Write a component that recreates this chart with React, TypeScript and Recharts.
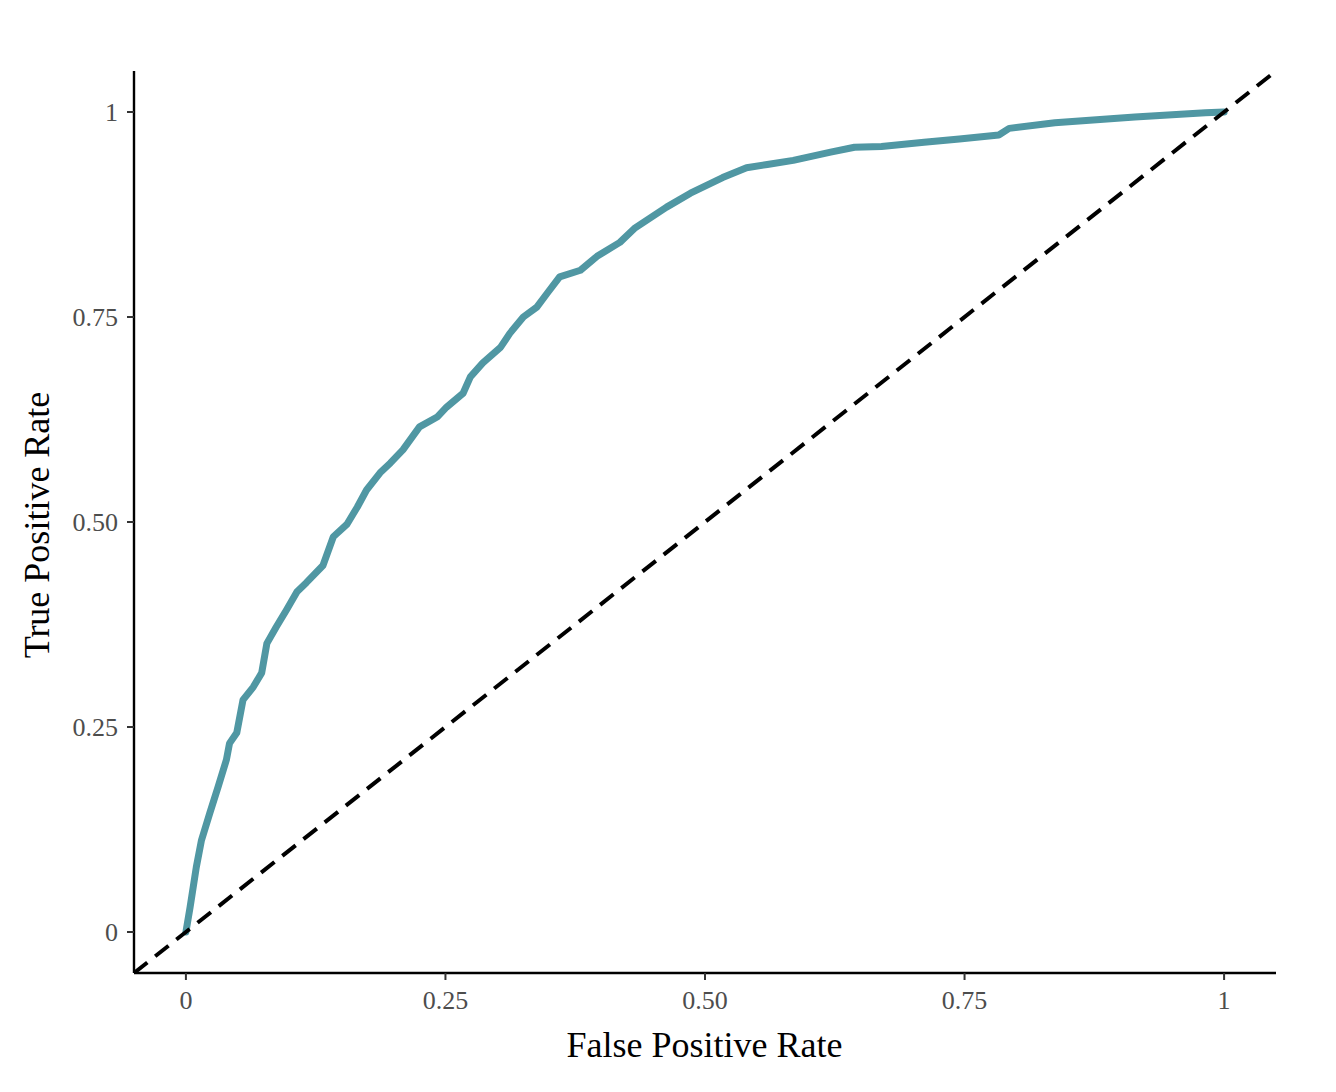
import React from "react";

import { LineChart, XAxis, YAxis, Line } from "recharts";

// ROC curve
const fpr = [
  0, 0.004, 0.01, 0.015, 0.023, 0.031, 0.039, 0.042, 0.049, 0.055, 0.065,
  0.073, 0.078, 0.087, 0.097, 0.107, 0.116, 0.132, 0.142, 0.155, 0.165, 0.174,
  0.187, 0.197, 0.209, 0.225, 0.242, 0.251, 0.267, 0.274, 0.286, 0.303, 0.312,
  0.325, 0.338, 0.348, 0.36, 0.38, 0.396, 0.418, 0.432, 0.463, 0.486, 0.517,
  0.54, 0.56, 0.585, 0.621, 0.644, 0.67, 0.711, 0.745, 0.783, 0.793, 0.837,
  0.914, 0.982, 1,
];

const tpr = [
  0, 0.03, 0.079, 0.112, 0.145, 0.177, 0.21, 0.23, 0.243, 0.283, 0.299, 0.316,
  0.352, 0.372, 0.393, 0.415, 0.426, 0.447, 0.482, 0.497, 0.518, 0.539, 0.56,
  0.572, 0.588, 0.616, 0.628, 0.64, 0.657, 0.677, 0.694, 0.713, 0.73, 0.75,
  0.762, 0.779, 0.799, 0.807, 0.824, 0.841, 0.858, 0.884, 0.901, 0.92, 0.932,
  0.936, 0.941, 0.951, 0.957, 0.958, 0.963, 0.967, 0.972, 0.98, 0.987, 0.994,
  0.999, 1,
];

// chance line (y = x) across the whole panel
const diagX = [-0.05, 1.05];

const tickValues = [0, 0.25, 0.5, 0.75, 1];
const tickLabels = ["0", "0.25", "0.50", "0.75", "1"];

const rocData = fpr.map((x, i) => ({ x, y: tpr[i] }));
const diagData = diagX.map((x) => ({ x, y: x }));

const FONT = "'Liberation Serif', 'Times New Roman', serif";

const fmt = (v: number) => {
  const i = tickValues.indexOf(v);
  return i >= 0 ? tickLabels[i] : String(v);
};

const App: React.FC = () => {
  return (
    <div style={{ width: 1320, height: 1076 }}>
      <LineChart
        width={1320}
        height={1076}
        margin={{ top: 63, right: 52, bottom: 0, left: 0 }}
        style={{ fontFamily: FONT }}
      >
        <XAxis
          type="number"
          dataKey="x"
          domain={[-0.05, 1.05]}
          ticks={tickValues}
          tickFormatter={fmt}
          allowDataOverflow
          height={111}
          tickSize={7}
          tickMargin={11}
          axisLine={{ stroke: "#000", strokeWidth: 2.4 }}
          tickLine={{ stroke: "#333", strokeWidth: 2 }}
          tick={{ fontSize: 26, fill: "#4d4d4d", fontFamily: FONT }}
          label={{
            content: () => (
              <text
                x={696.5}
                y={1049}
                textAnchor="middle"
                fontSize={36}
                fill="#000"
                fontFamily={FONT}
              >
                False Positive Rate
              </text>
            ),
          }}
        />
        <YAxis
          type="number"
          dataKey="y"
          domain={[-0.05, 1.05]}
          ticks={tickValues}
          tickFormatter={fmt}
          allowDataOverflow
          width={126}
          tickSize={7}
          tickMargin={9}
          axisLine={{ stroke: "#000", strokeWidth: 2.4 }}
          tickLine={{ stroke: "#333", strokeWidth: 2 }}
          tick={{ fontSize: 26, fill: "#4d4d4d", fontFamily: FONT }}
          label={{
            content: () => (
              <text
                x={41}
                y={517}
                transform="rotate(-90 41 517)"
                textAnchor="middle"
                fontSize={36}
                fill="#000"
                fontFamily={FONT}
              >
                True Positive Rate
              </text>
            ),
          }}
        />
        <Line
          data={rocData}
          dataKey="y"
          type="linear"
          stroke="#5097a3"
          strokeWidth={7}
          strokeLinejoin="round"
          strokeLinecap="round"
          dot={false}
          activeDot={false}
          isAnimationActive={false}
        />
        <Line
          data={diagData}
          dataKey="y"
          type="linear"
          stroke="#000"
          strokeWidth={4}
          strokeDasharray="17 10"
          dot={false}
          activeDot={false}
          isAnimationActive={false}
        />
      </LineChart>
    </div>
  );
};

export default App;
